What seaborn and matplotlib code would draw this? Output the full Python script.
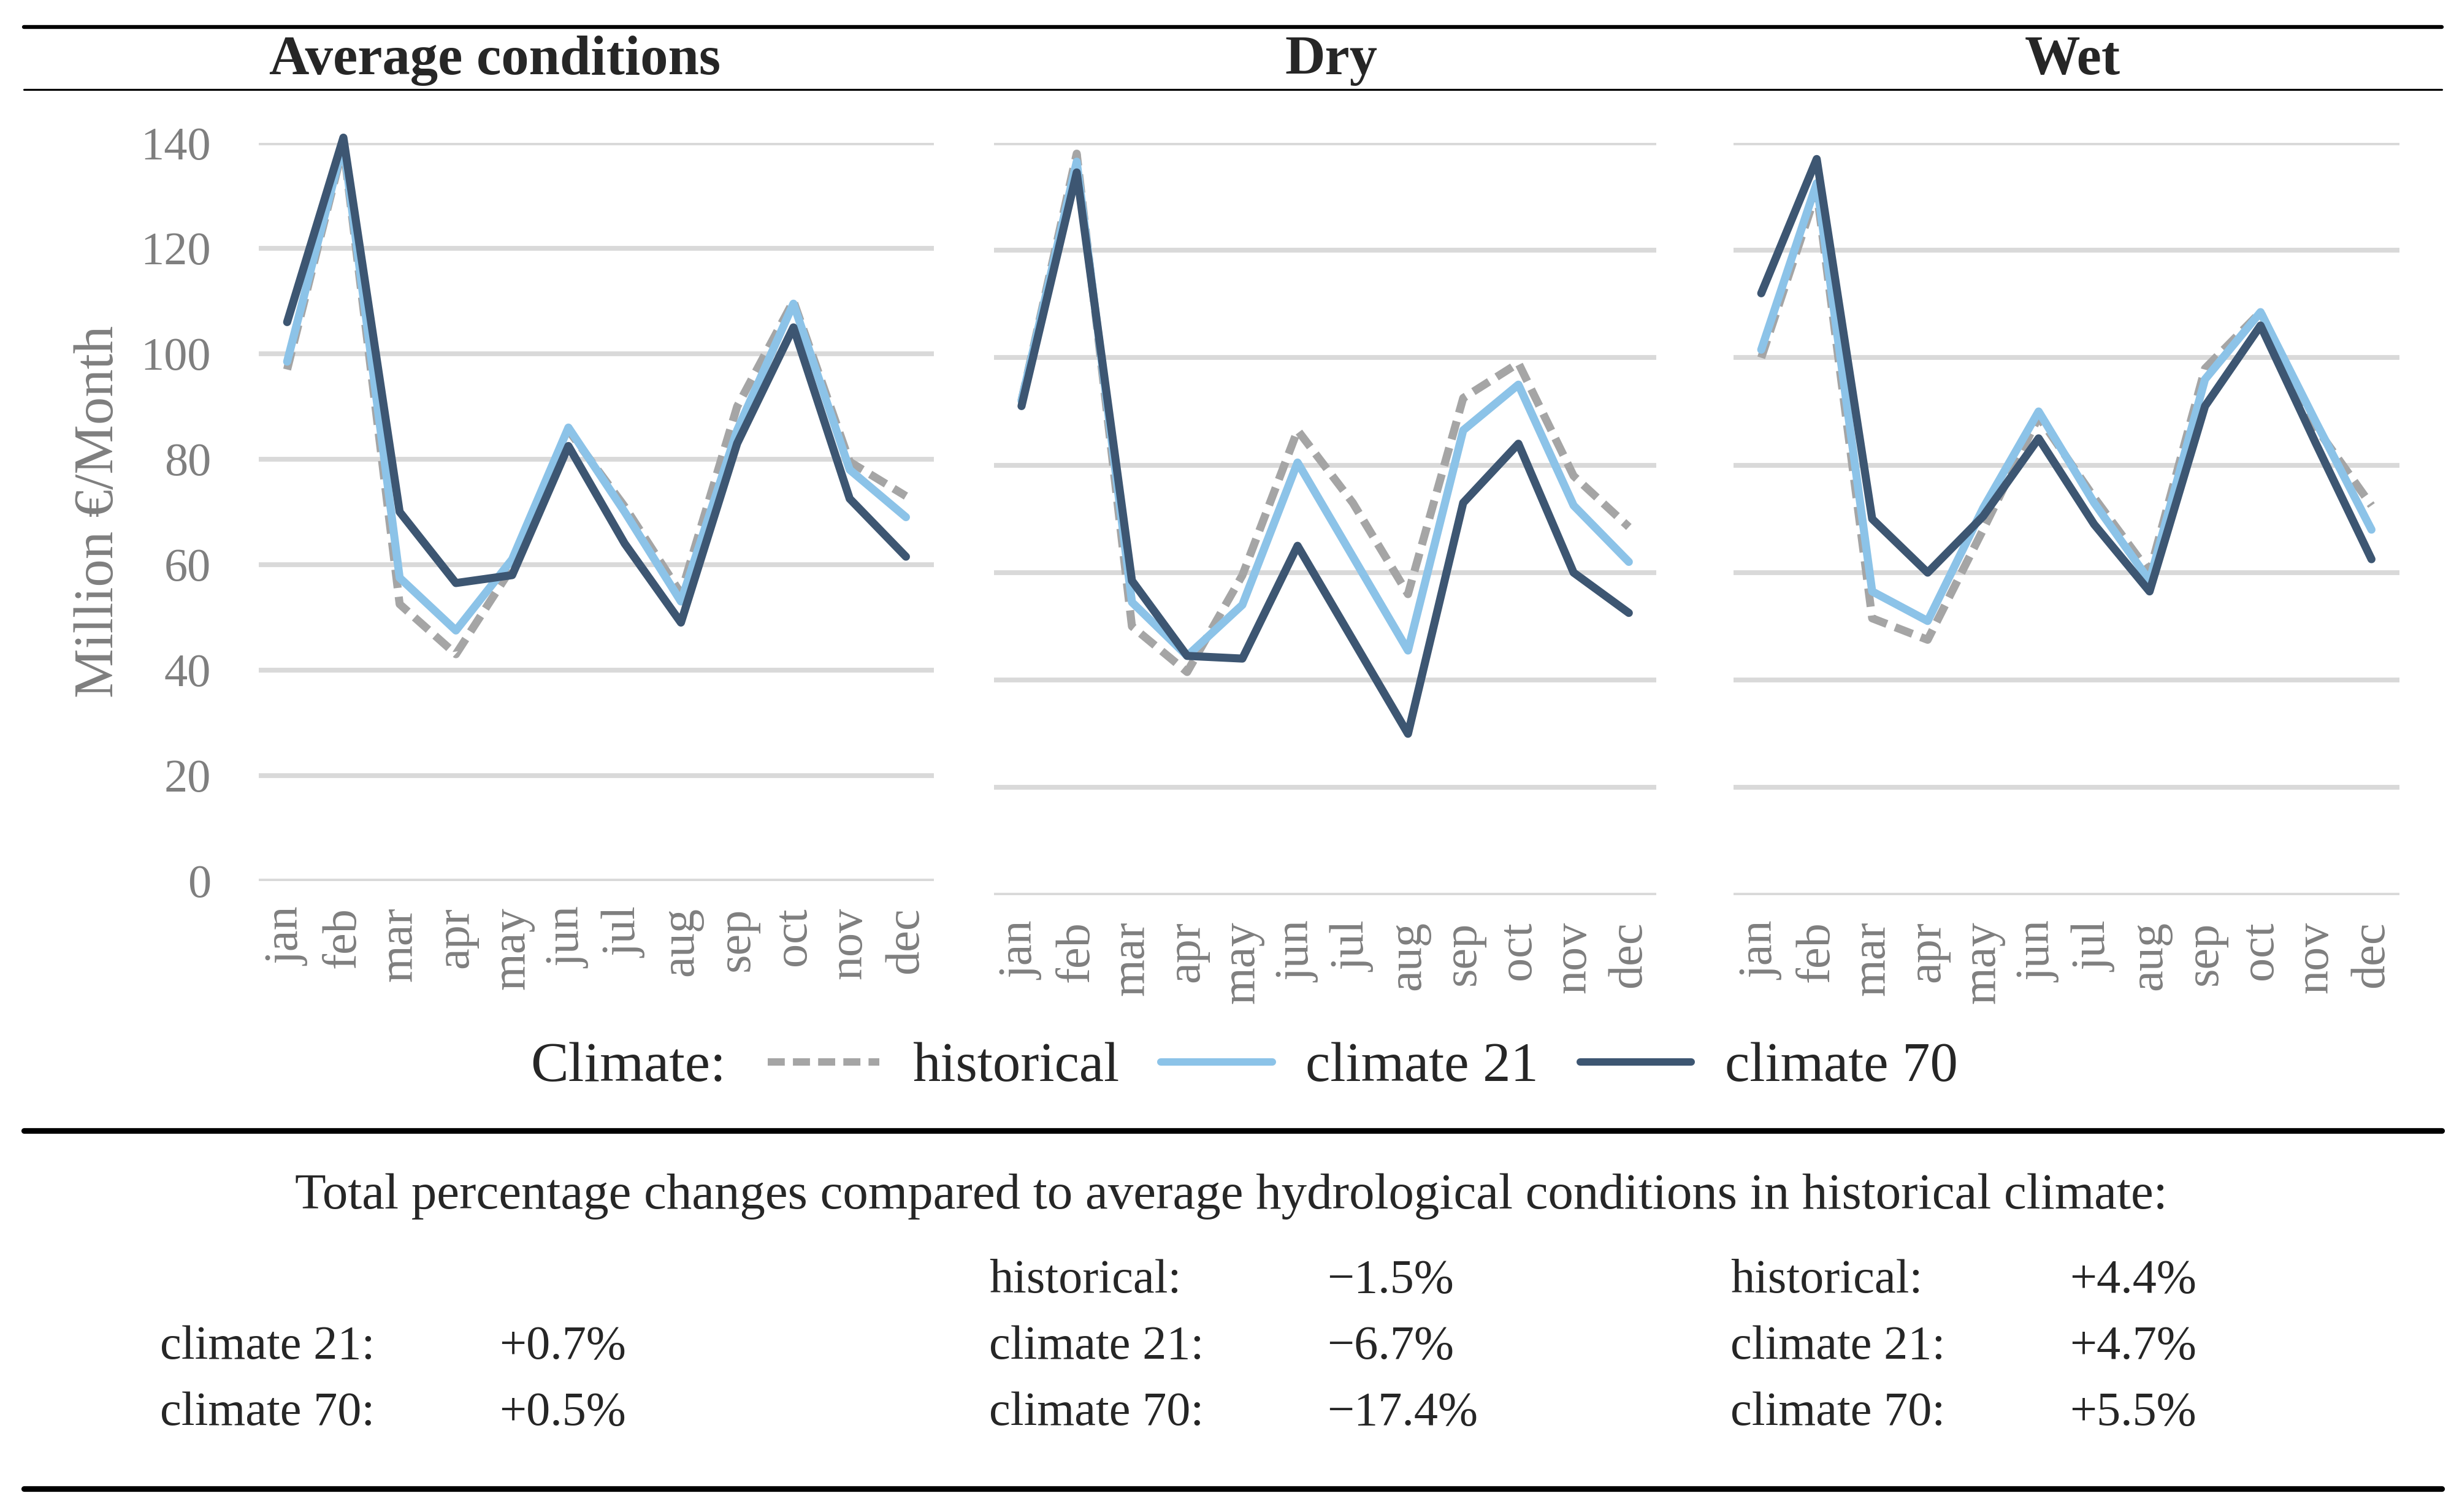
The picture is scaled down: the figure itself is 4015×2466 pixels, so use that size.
import numpy as np
import pandas as pd
import matplotlib
matplotlib.use("Agg")
import matplotlib.pyplot as plt
import seaborn as sns
from matplotlib.lines import Line2D

months = ["jan", "feb", "mar", "apr", "may", "jun", "jul", "aug", "sep", "oct", "nov", "dec"]
climates = ["historical", "climate 21", "climate 70"]
panels = ["Average conditions", "Dry", "Wet"]

# Million EUR per month
avg_hist = [97, 139.5, 52.5, 43, 59.5, 85.5, 71, 54.5, 90, 110, 79.5, 73]
avg_c21 = [98.5, 140, 57.5, 47.5, 61, 86, 70, 53, 85.5, 109.5, 78, 69]
avg_c70 = [106, 141, 70, 56.5, 58, 82.5, 64, 49, 83, 105, 72.5, 61.5]

dry_hist = [92, 138, 50, 41.5, 59.5, 86.5, 73, 56, 92.5, 99, 78, 68.5]
dry_c21 = [92, 136.5, 54.5, 44.5, 54, 80.5, 63, 45.5, 86.5, 95, 72.5, 62]
dry_c70 = [91, 134.5, 58.5, 44.5, 44, 65, 47.5, 30, 73, 84, 60, 52.5]

wet_hist = [100, 131, 51.5, 47.5, 68, 89, 74, 60, 98, 108.5, 87, 72.5]
wet_c21 = [101.5, 132.5, 56.5, 51, 72, 90, 73, 58.5, 96, 108.5, 88, 68]
wet_c70 = [112, 137, 70, 60, 70.5, 85, 69, 56.5, 91, 106, 84, 62.5]

# total percentage changes vs. average/historical
changes = {
    "Average conditions": [("climate 21:", "+0.7%"), ("climate 70:", "+0.5%")],
    "Dry": [("historical:", "\u22121.5%"), ("climate 21:", "\u22126.7%"), ("climate 70:", "\u221217.4%")],
    "Wet": [("historical:", "+4.4%"), ("climate 21:", "+4.7%"), ("climate 70:", "+5.5%")],
}

series = {
    "Average conditions": [avg_hist, avg_c21, avg_c70],
    "Dry": [dry_hist, dry_c21, dry_c70],
    "Wet": [wet_hist, wet_c21, wet_c70],
}
rows = []
for p in panels:
    for c, vals in zip(climates, series[p]):
        for i, v in enumerate(vals):
            rows.append({"panel": p, "climate": c, "m": i, "value": v})
df = pd.DataFrame(rows)

palette = {"historical": "#A5A5A5", "climate 21": "#8CC3E8", "climate 70": "#3D5672"}
dashes = {"historical": (2.3, 1.1), "climate 21": "", "climate 70": ""}

sns.set_style("white")
plt.rcParams["font.family"] = ["Liberation Serif", "DejaVu Serif"]

fig = plt.figure(figsize=(4015 / 256, 2466 / 256), dpi=256)

# axes rectangles in figure fractions
rects = [
    [0.1052, 0.4174, 0.2742, 0.4881],
    [0.4037, 0.4081, 0.2691, 0.4974],
    [0.7041, 0.4081, 0.2704, 0.4974],
]
gray = "#7F7F7F"
axes = []
for k, p in enumerate(panels):
    ax = fig.add_axes(rects[k])
    sub = df[df["panel"] == p]
    sns.lineplot(data=sub, x="m", y="value", hue="climate", style="climate",
                 hue_order=climates, style_order=climates,
                 palette=palette, dashes=dashes, lw=3.7, ax=ax,
                 legend=(k == 0), clip_on=False, solid_capstyle="round",
                 solid_joinstyle="round", dash_capstyle="butt")
    ax.set_xlim(-0.5, 11.5)
    ax.set_ylim(0, 140)
    ax.set_yticks(np.arange(0, 141, 20))
    ax.set_xticks(range(12))
    ax.set_xticklabels(months, rotation=90)
    ax.yaxis.grid(True, color="#D9D9D9", lw=2.2)
    ax.xaxis.grid(False)
    ax.set_axisbelow(True)
    for s in ax.spines.values():
        s.set_visible(False)
    ax.tick_params(axis="x", length=0, pad=12, labelsize=22, colors=gray)
    ax.tick_params(axis="y", length=0, pad=22, labelsize=21.5, colors=gray)
    ax.set_xlabel("")
    ax.set_ylabel("")
    if k > 0:
        ax.set_yticklabels([])
    axes.append(ax)

fig.text(0.0402, 0.6615, "Million \u20ac/Month", rotation=90, ha="center", va="center",
         fontsize=25.5, color=gray)

# panel titles
for x, t in zip([0.2009, 0.5408, 0.8418], panels):
    fig.text(x, 0.9600, t, ha="center", va="center", fontsize=25.5, fontweight="bold")

# legend
handles, labels = axes[0].get_legend_handles_labels()
axes[0].legend_.remove()
for h in handles:
    h.set_linewidth(3.4)
fig.text(0.2156, 0.2939, "Climate:", ha="left", va="center", fontsize=26)
fig.legend(handles, labels, loc="center left", bbox_to_anchor=(0.3119, 0.2939),
           ncol=3, frameon=False, fontsize=25.5, handlelength=2.0, handletextpad=0.6,
           columnspacing=0.75, borderpad=0, borderaxespad=0)

# horizontal rules
for y, lw in [(0.9823, 1.8), (0.9408, 0.9), (0.2523, 2.6), (0.0156, 2.6)]:
    fig.add_artist(Line2D([0.0096, 0.9917], [y, y], transform=fig.transFigure,
                          color="black", lw=lw))

# summary table
fig.text(0.5, 0.2087, "Total percentage changes compared to average hydrological conditions in historical climate:",
         ha="center", va="center", fontsize=23.3)
row_y = [0.1526, 0.1090, 0.0654]
cols = {"Average conditions": (0.0651, 0.2028), "Dry": (0.4018, 0.5389), "Wet": (0.7028, 0.8406)}
for p in panels:
    entries = changes[p]
    ys = row_y[-len(entries):]
    for (lab, val), y in zip(entries, ys):
        fig.text(cols[p][0], y, lab, ha="left", va="center", fontsize=22)
        fig.text(cols[p][1], y, val, ha="left", va="center", fontsize=22)

fig.savefig("out.png", dpi=256)
